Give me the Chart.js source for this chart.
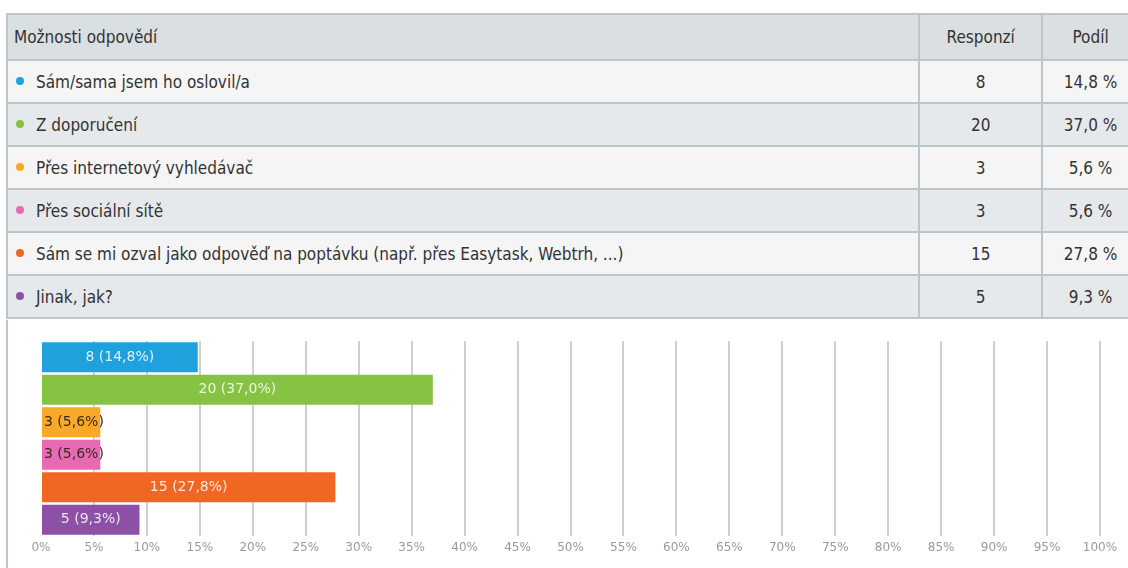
<!DOCTYPE html>
<html lang="cs">
<head>
<meta charset="utf-8">
<title>Možnosti odpovědí</title>
<script src="https://cdn.jsdelivr.net/npm/chart.js@4.4.1/dist/chart.umd.min.js"></script>
<style>
  html, body { margin: 0; padding: 0; background: #fff; overflow: hidden; }
  body { width: 1128px; height: 568px; position: relative; }

  .answers {
    position: absolute; left: 6px; top: 13px; width: 1134px;
    border-collapse: collapse;
    font-family: "DejaVu Sans Condensed", "Liberation Sans Narrow", sans-serif;
    font-size: 17px; color: #333;
  }
  .answers th, .answers td {
    border: 2px solid #bcc6c9; padding: 0 8px; height: 41px;
    font-weight: normal; white-space: nowrap;
  }
  .answers th { background: #dadfe2; height: 44px; }
  .answers th:first-child { padding-left: 6px; }
  .answers th:first-child, .answers td:first-child { text-align: left; }
  .answers .num { text-align: center; }
  .answers tbody tr:nth-child(odd) td { background: #f5f5f5; }
  .answers tbody tr:nth-child(even) td { background: #e6e9eb; }
  .dot {
    display: inline-block; width: 8px; height: 8px; border-radius: 50%;
    margin: 0 12px 3px 0; vertical-align: middle;
  }

  .chart-box {
    position: absolute; left: 6px; top: 320px; width: 1134px; height: 248px;
    border-left: 2px solid #bcc6c9;
  }
</style>
</head>
<body>

<table class="answers" id="answers">
  <colgroup><col style="width:914px"><col style="width:123px"><col style="width:97px"></colgroup>
  <thead><tr><th>Možnosti odpovědí</th><th class="num">Responzí</th><th class="num">Podíl</th></tr></thead>
  <tbody></tbody>
</table>

<div class="chart-box"><canvas id="shareChart"></canvas></div>

<script>
// odpovědi, počty a podíly
const categories = [
  'Sám/sama jsem ho oslovil/a',
  'Z doporučení',
  'Přes internetový vyhledávač',
  'Přes sociální sítě',
  'Sám se mi ozval jako odpověď na poptávku (např. přes Easytask, Webtrh, ...)',
  'Jinak, jak?'
];
const counts = [8, 20, 3, 3, 15, 5];
const shares = [14.8, 37.0, 5.6, 5.6, 27.8, 9.3];
const colors = ['#1fa1dd', '#86c343', '#f9a828', '#e76ab3', '#f26623', '#8d50a7'];
const tickValues = [0, 5, 10, 15, 20, 25, 30, 35, 40, 45, 50, 55, 60, 65, 70, 75, 80, 85, 90, 95, 100];

function fmt(v) { return v.toFixed(1).replace('.', ','); }

// tabulka nad grafem
(function fillTable() {
  const tbody = document.querySelector('#answers tbody');
  categories.forEach(function (name, i) {
    const tr = document.createElement('tr');
    tr.innerHTML =
      '<td><span class="dot" style="background:' + colors[i] + '"></span>' + name + '</td>' +
      '<td class="num">' + counts[i] + '</td>' +
      '<td class="num">' + fmt(shares[i]) + ' %</td>';
    tbody.appendChild(tr);
  });
})();

// popisky "počet (podíl%)" v pruzích
const barLabels = {
  id: 'barLabels',
  afterDatasetsDraw(chart) {
    const ctx = chart.ctx;
    const meta = chart.getDatasetMeta(0);
    ctx.save();
    ctx.font = '14px "DejaVu Sans", sans-serif';
    ctx.textBaseline = 'middle';
    meta.data.forEach(function (bar, i) {
      const text = counts[i] + ' (' + fmt(shares[i]) + '%)';
      const w = ctx.measureText(text).width;
      const left = bar.base, right = bar.x;
      if (right - left > w + 10) {
        ctx.fillStyle = 'rgba(255,255,255,0.85)';
        ctx.textAlign = 'center';
        ctx.fillText(text, (left + right) / 2, bar.y);
      } else {
        ctx.fillStyle = '#3a2a20';
        ctx.textAlign = 'left';
        ctx.fillText(text, left + 2, bar.y);
      }
    });
    ctx.restore();
  }
};

new Chart(document.getElementById('shareChart'), {
  type: 'bar',
  data: {
    labels: categories,
    datasets: [{
      data: shares,
      backgroundColor: colors,
      borderWidth: 0,
      barPercentage: 0.92,
      categoryPercentage: 1
    }]
  },
  options: {
    indexAxis: 'y',
    responsive: true,
    maintainAspectRatio: false,
    animation: false,
    layout: { padding: { left: 33, right: 42, top: 21, bottom: 7.6 } },
    plugins: { legend: { display: false }, tooltip: { enabled: false } },
    scales: {
      x: {
        min: 0, max: 100,
        afterBuildTicks(axis) { axis.ticks = tickValues.map(v => ({ value: v })); },
        grid: {
          drawTicks: false,
          lineWidth: 2,
          color: ctx => ctx.tick && ctx.tick.value === 0 ? 'rgba(0,0,0,0)' : '#cfcfcf'
        },
        border: { display: false },
        ticks: {
          padding: 5,
          color: '#9a9a9a',
          font: { family: '"DejaVu Sans", sans-serif', size: 12 },
          maxRotation: 0,
          autoSkip: false,
          callback: v => v + '%'
        }
      },
      y: { display: false }
    }
  },
  plugins: [barLabels]
});
</script>
</body>
</html>
